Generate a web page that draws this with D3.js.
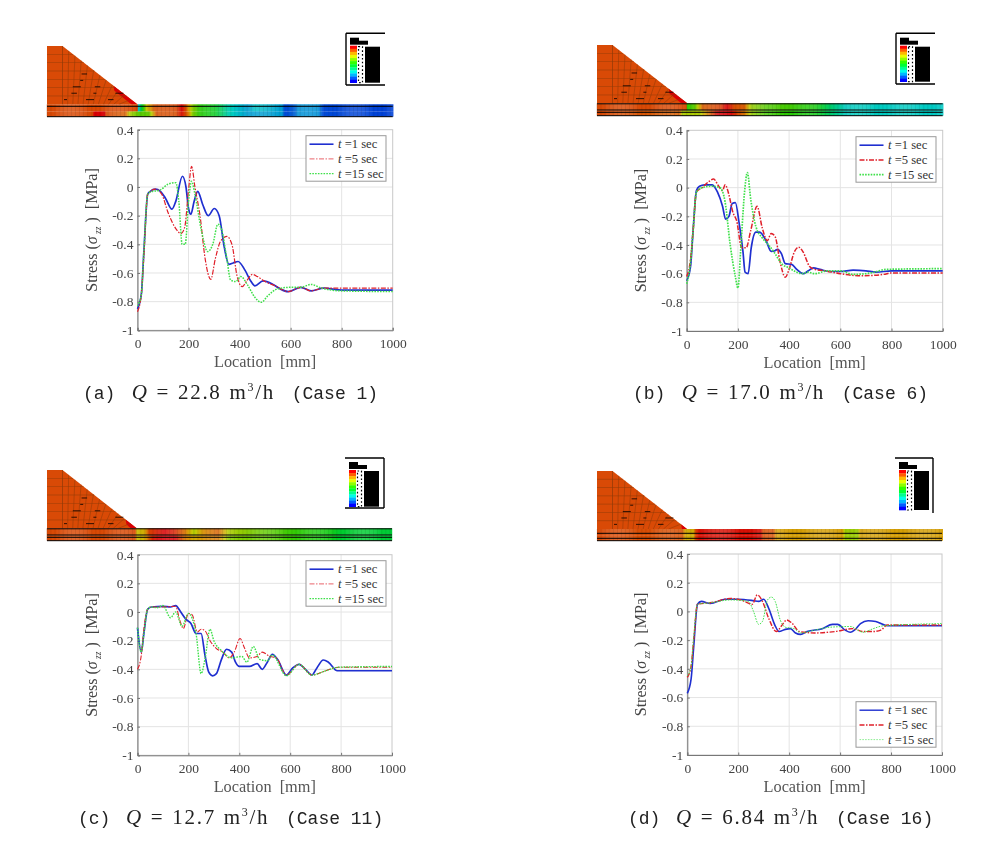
<!DOCTYPE html>
<html><head><meta charset="utf-8">
<script src="https://cdn.jsdelivr.net/npm/d3@7/dist/d3.min.js"></script>
<style>html,body{margin:0;background:#fff}svg{display:block;filter:blur(.5px)}</style></head>
<body><svg id="c" width="1004" height="845"></svg>
<script>
// ---- data: [location mm, stress MPa]
const case1T1=[[0,-.85],[15,-.75],[25,-.45],[40,-.05],[50,-.03],[70,-.015],[90,-.03],[110,-.08],[135,-.155],[150,-.1],[176,.075],[190,0],[200,-.15],[209,-.19],[222,-.1],[236,-.03],[255,-.12],[277,-.2],[301,-.15],[320,-.2],[340,-.42],[358,-.54],[375,-.53],[394,-.52],[421,-.58],[445,-.66],[460,-.69],[492,-.655],[531,-.68],[558,-.71],[590,-.73],[640,-.7],[680,-.725],[730,-.705],[800,-.72],[1000,-.72]];
const case1T5=[[0,-.87],[15,-.75],[25,-.48],[40,-.05],[70,-.015],[95,-.05],[120,-.18],[150,-.29],[170,-.325],[185,-.28],[200,-.02],[212,.145],[225,0],[245,-.2],[265,-.5],[287,-.645],[305,-.5],[325,-.38],[350,-.345],[370,-.4],[390,-.62],[410,-.695],[430,-.65],[450,-.61],[470,-.625],[500,-.66],[540,-.69],[590,-.73],[640,-.7],[680,-.725],[730,-.705],[800,-.705],[1000,-.705]];
const case1T15=[[0,-.83],[15,-.75],[25,-.45],[40,-.05],[50,-.035],[90,-.02],[120,.02],[150,.03],[162,-.1],[175,-.4],[187,-.4],[200,-.1],[212,.04],[225,-.05],[250,-.3],[275,-.45],[295,-.4],[315,-.26],[330,-.3],[350,-.5],[365,-.65],[385,-.66],[405,-.625],[430,-.68],[460,-.77],[485,-.805],[510,-.76],[550,-.71],[600,-.7],[640,-.7],[680,-.68],[720,-.705],[800,-.725],[1000,-.73]];
const case6T1=[[0,-.65],[15,-.55],[25,-.3],[38,-.02],[50,.01],[70,.02],[100,.02],[120,-.03],[140,-.13],[152,-.22],[165,-.2],[178,-.11],[190,-.105],[205,-.25],[220,-.45],[228,-.59],[240,-.6],[252,-.42],[270,-.31],[285,-.31],[310,-.37],[330,-.445],[345,-.44],[355,-.43],[370,-.46],[385,-.53],[410,-.535],[430,-.57],[455,-.6],[475,-.58],[495,-.56],[520,-.57],[560,-.585],[600,-.585],[650,-.575],[700,-.58],[740,-.59],[800,-.58],[1000,-.58]];
const case6T5=[[0,-.62],[15,-.5],[25,-.3],[38,-.03],[60,0],[85,.04],[105,.06],[125,.01],[140,-.02],[150,.02],[165,-.05],[180,-.17],[195,-.23],[215,-.42],[232,-.42],[250,-.3],[275,-.13],[295,-.28],[315,-.37],[330,-.32],[345,-.34],[365,-.52],[385,-.625],[400,-.57],[420,-.45],[437,-.415],[455,-.45],[480,-.55],[500,-.57],[540,-.58],[600,-.6],[680,-.615],[770,-.605],[800,-.595],[1000,-.595]];
const case6T15=[[0,-.67],[15,-.52],[25,-.3],[38,-.03],[60,0],[100,.01],[130,0],[150,-.1],[170,-.4],[190,-.62],[200,-.7],[212,-.4],[225,-.05],[237,.105],[250,-.08],[270,-.27],[295,-.35],[320,-.4],[345,-.46],[370,-.53],[400,-.56],[430,-.59],[450,-.6],[475,-.59],[500,-.6],[550,-.58],[600,-.58],[650,-.605],[720,-.595],[780,-.57],[1000,-.565]];
const case11T1=[[0,-.11],[15,-.28],[25,-.15],[40,.02],[55,.035],[100,.04],[130,.035],[150,.045],[170,0],[190,-.05],[210,-.08],[230,-.15],[250,-.15],[265,-.3],[280,-.42],[295,-.445],[310,-.43],[330,-.33],[350,-.26],[370,-.28],[385,-.35],[400,-.38],[440,-.38],[470,-.36],[490,-.4],[510,-.35],[530,-.295],[550,-.33],[585,-.44],[610,-.39],[635,-.365],[660,-.4],[685,-.44],[705,-.39],[730,-.335],[750,-.35],[785,-.41],[1000,-.41]];
const case11T5=[[0,-.4],[15,-.3],[25,-.12],[40,.02],[55,.035],[100,.035],[150,.04],[165,-.05],[180,-.115],[200,-.01],[215,-.02],[235,-.14],[250,-.12],[265,-.13],[285,-.2],[310,-.255],[335,-.28],[360,-.32],[380,-.28],[403,-.185],[420,-.25],[440,-.32],[470,-.31],[490,-.28],[520,-.31],[545,-.32],[585,-.44],[635,-.365],[685,-.44],[740,-.41],[790,-.385],[1000,-.385]];
const case11T15=[[0,-.11],[15,-.28],[25,-.15],[40,.02],[55,.035],[75,.03],[100,.045],[130,-.04],[150,0],[175,-.1],[200,-.01],[230,-.15],[250,-.43],[265,-.33],[285,-.12],[300,-.2],[330,-.27],[370,-.32],[410,-.31],[430,-.35],[455,-.24],[480,-.33],[510,-.34],[530,-.3],[585,-.445],[635,-.365],[685,-.44],[740,-.41],[790,-.385],[1000,-.38]];
const case16T1=[[0,-.57],[15,-.47],[25,-.25],[40,.05],[55,.07],[90,.055],[150,.085],[200,.085],[260,.075],[280,.07],[300,.085],[320,.02],[345,-.1],[360,-.14],[385,-.125],[405,-.12],[425,-.15],[445,-.16],[470,-.14],[530,-.12],[570,-.09],[590,-.09],[620,-.13],[640,-.145],[660,-.125],[680,-.085],[710,-.065],[740,-.07],[785,-.1],[1000,-.1]];
const case16T5=[[0,-.46],[15,-.38],[25,-.2],[40,.05],[90,.06],[170,.09],[210,.08],[255,.05],[275,.115],[295,.07],[320,-.05],[350,-.14],[370,-.1],[390,-.06],[410,-.08],[440,-.14],[500,-.15],[580,-.14],[650,-.12],[690,-.14],[730,-.14],[760,-.13],[785,-.095],[1000,-.095]];
const case16T15=[[0,-.45],[15,-.38],[25,-.18],[40,.05],[90,.06],[170,.08],[240,.07],[260,0],[280,-.09],[295,-.07],[315,.08],[330,.1],[345,.07],[365,-.06],[385,-.11],[420,-.12],[445,-.15],[500,-.13],[560,-.11],[640,-.105],[690,-.145],[730,-.12],[770,-.1],[1000,-.085]];

const xTicks=[0,200,400,600,800,1000];
const yTicks=[.4,.2,0,-.2,-.4,-.6,-.8,-1];
const seriesNames=["1","5","15"];

// contour levels (0 = blue, 1 = red) along the foundation strip: [location mm, level]
const contour1Top=[[-352,.91],[0,.91],[1,.2],[17,.45],[37,.75],[69,.9],[154,.91],[174,1],[193,.88],[213,.68],[245,.55],[285,.5],[304,.48],[355,.3],[433,.2],[461,.26],[565,.2],[578,.09],[617,.12],[630,.18],[708,.18],[727,.09],[1000,.08]];
const contour1Bot=[[-352,.91],[-175,.91],[-170,1],[-128,1],[-122,.91],[-45,.88],[-30,.7],[10,.6],[45,.62],[60,.75],[75,.9],[150,.9],[175,.98],[200,.85],[215,.66],[245,.55],[285,.5],[304,.48],[355,.3],[433,.2],[461,.2],[565,.2],[578,.09],[617,.12],[630,.18],[708,.18],[727,.09],[1000,.08]];
const contour6Top=[[-352,.91],[-2,.91],[0,.55],[30,.62],[60,.88],[130,.92],[155,1],[185,.9],[225,.88],[250,.68],[310,.6],[400,.58],[500,.52],[560,.38],[620,.28],[1000,.27]];
const contour6Bot=[[-352,.91],[-30,.88],[-20,.7],[50,.7],[90,.88],[120,1],[170,1],[200,.9],[225,.85],[250,.68],[310,.58],[400,.55],[500,.5],[560,.38],[620,.28],[1000,.27]];
const contour11Top=[[-352,.91],[-5,.91],[0,.75],[30,.78],[50,.92],[110,1],[150,.95],[190,.85],[225,.7],[260,.82],[320,.88],[360,.7],[500,.62],[620,.56],[760,.5],[800,.45],[1000,.44]];
const contour11Bot=[[-352,.91],[-5,.91],[0,.75],[30,.78],[60,.95],[90,1],[150,1],[190,.85],[225,.78],[260,.82],[320,.85],[360,.66],[500,.62],[620,.56],[760,.5],[800,.45],[1000,.44]];
const contour16Top=[[-352,.91],[-20,.9],[-5,.78],[25,.78],[35,.93],[50,.98],[290,.98],[300,.9],[340,.9],[350,.8],[610,.8],[620,.68],[670,.68],[680,.8],[1000,.8]];
const contour16Bot=contour16Top;
const barLevels=[1,.91,.82,.73,.64,.55,.45,.36,.27,.18,.09,0];

const panels=[
 {id:"a",Q:"22.8",cs:"1",s:[case1T1,case1T5,case1T15],ct:contour1Top,cb:contour1Bot,
  px:[137.5,392.7],py:[129.7,330.3],mesh:{l:47,top:46,st:104.3,bot:116.7,toe:137.3,lines:[106.3,116.7]},
  bar:{fx:[346,385],fy:[33.3,85],open:"right",x:350,y:[45.7,82.7]},
  leg:{x:306,y:135.7},cap:{y:393,a:83,q:131.7,c:291.7},lw:[1.7,1.2,1.5],ll:[1.6,.7,1.1]},
 {id:"b",Q:"17.0",cs:"6",s:[case6T1,case6T5,case6T15],ct:contour6Top,cb:contour6Bot,
  px:[686.7,942.7],py:[130.3,331],mesh:{l:597,top:45,st:103.3,bot:115.7,toe:687.3,lines:[103.8,110,112.3,115.7]},
  bar:{fx:[896,935],fy:[33.3,84],open:"right",x:900,y:[45.7,81.7]},
  leg:{x:856,y:136.7},cap:{y:393,a:633,q:681.7,c:841.7},lw:[1.7,1.5,1.7],ll:[1.6,1.5,1.6]},
 {id:"c",Q:"12.7",cs:"11",s:[case11T1,case11T5,case11T15],ct:contour11Top,cb:contour11Bot,
  px:[137.5,392],py:[554.7,755.3],mesh:{l:47,top:470,st:528.3,bot:540.7,toe:136.7,lines:[528.8,535,537.3,540.7]},
  bar:{fx:[345,384],fy:[458,508],open:"left",x:349,y:[470,506.7]},
  leg:{x:306,y:560.7},cap:{y:818,a:78,q:126,c:286},lw:[1.7,1.1,1.4],ll:[1.6,.7,1.1]},
 {id:"d",Q:"6.84",cs:"16",s:[case16T1,case16T5,case16T15],ct:contour16Top,cb:contour16Bot,
  px:[687.3,942],py:[554,755],mesh:{l:597,top:471,st:529,bot:540.7,toe:687,lines:[533.3,538.3,540.7]},
  bar:{fx:[895,933],fy:[458,513],open:"leftbottom",x:899,y:[470,510]},
  leg:{x:856,y:701.7},cap:{y:818,a:628,q:676,c:836},lw:[1.6,1.4,1],ll:[1.4,1.5,.6]}
];

const serif="'Liberation Serif',serif", mono="'Liberation Mono',monospace";
const colors=["#1f2fd0","#e0202a","#3fe04a"], dashes=[null,"5 1.5 1.5 1.5","1.6 1.2"];
const ramp=[[0,0,255],[0,93,255],[0,185,255],[0,255,232],[0,255,139],[0,255,46],[46,255,0],[139,255,0],[232,255,0],[255,185,0],[255,93,0],[255,0,0]];
const rampScale=d3.scaleLinear().domain(d3.range(12).map(i=>i/11)).range(ramp.map(c=>`rgb(${c})`));
const shade=l=>{const c=d3.rgb(rampScale(Math.max(0,Math.min(1,l))));return d3.rgb(c.r*.85,c.g*.8,c.b*.82+6).formatHex();};
const svg=d3.select("#c");

panels.forEach(p=>{
 const g=svg.append("g");
 const x=d3.scaleLinear().domain([0,1000]).range(p.px);
 const y=d3.scaleLinear().domain([-1,.4]).range([p.py[1],p.py[0]]);
 // mesh
 const m=p.mesh, mmx=d3.scaleLinear().domain([0,1000]).range([m.toe,p.px[1]]);
 const L=mmx.invert(m.l), crest=mmx.invert(m.l+15.5);
 const mmy=d3.scaleLinear().domain([0,m.st-m.top]).range([m.st,m.top]);
 const H=m.st-m.top;
 const mesh=g.append("g");
 mesh.append("path").attr("fill",shade(.91))
  .attr("d",d3.line()([[mmx(L),mmy(H)],[mmx(crest),mmy(H)],[mmx(0),mmy(0)],[mmx(L),mmy(0)]]));
 // red toe patch along the slope
 const slope=t=>[mmx(crest+(0-crest)*t),mmy(H*(1-t))];
 const redFrom={a:.68,b:.75,c:.85,d:.92}[p.id];
 const a0=slope(redFrom),a1=slope(1);
 mesh.append("path").attr("fill",shade(1)).attr("d",d3.line()([a0,a1,[a1[0]-6,a1[1]],[a0[0]+1,a0[1]+5]]));
 // element lines of the embankment
 d3.range(1,12).forEach(i=>{
  const t=i/12,[sx,sy]=slope(t);
  mesh.append("line").attr("x1",sx).attr("y1",sy).attr("x2",m.l+16+(sx-m.l-16)*.82).attr("y2",m.st)
   .attr("stroke","#8e3a08").attr("stroke-width",.6).attr("opacity",.85);
 });
 d3.range(1,7).forEach(j=>{
  const v=j/7, yy=m.st-H*v, xe=m.toe+(m.l+15.5-m.toe)*v;
  mesh.append("line").attr("x1",m.l).attr("x2",xe).attr("y1",yy).attr("y2",yy)
   .attr("stroke","#8e3a08").attr("stroke-width",.6).attr("opacity",.85);
 });
 mesh.append("line").attr("x1",m.l+15.5).attr("x2",m.l+15.5).attr("y1",m.top).attr("y2",m.st).attr("stroke","#8e3a08").attr("stroke-width",.7);
 d3.range(0,16).forEach(i=>{
  const j=i%5, yy=m.st-H*(.08+.11*j), xx=m.l+17+i*4.4+(j%2)*3;
  if(xx+6<m.toe-(m.st-yy)*1.32)
   mesh.append("line").attr("x1",xx).attr("x2",xx+3+(i%3)*2.5).attr("y1",yy).attr("y2",yy).attr("stroke","#1a0800").attr("stroke-width",.9);
 });
 // contour strip
 const lev=a=>d3.scaleLinear().domain(a.map(d=>d[0])).range(a.map(d=>d[1]));
 const lt=lev(p.ct),lb=lev(p.cb), mid=(m.st+m.bot)/2+1;
 d3.range(Math.floor(L),1000,4).forEach(loc=>{
  const xa=mmx(loc),w=mmx(loc+4)-xa+.2;
  mesh.append("rect").attr("x",xa).attr("y",m.st).attr("width",w).attr("height",mid-m.st).attr("fill",shade(lt(loc+2)));
  mesh.append("rect").attr("x",xa).attr("y",mid).attr("width",w).attr("height",m.bot-mid).attr("fill",shade(lb(loc+2)));
 });
 d3.range(Math.floor(L),1000,16).forEach(loc=>{
  mesh.append("line").attr("x1",mmx(loc)).attr("x2",mmx(loc)).attr("y1",m.st).attr("y2",m.bot).attr("stroke","#000").attr("stroke-width",.5).attr("opacity",.16);
 });
 m.lines.forEach(yy=>mesh.append("line").attr("x1",m.l).attr("x2",p.px[1]).attr("y1",yy).attr("y2",yy).attr("stroke","#000").attr("stroke-width",1));
 // colour bar
 const b=p.bar, bs=d3.scaleBand().domain(barLevels).range(b.y);
 const bg=g.append("g");
 barLevels.forEach(l=>bg.append("rect").attr("x",b.x).attr("width",7).attr("y",bs(l)).attr("height",bs.bandwidth()+.3).attr("fill",rampScale(l)));
 const ln=(a,c,d,e)=>bg.append("line").attr("x1",a).attr("y1",c).attr("x2",d).attr("y2",e).attr("stroke","#000").attr("stroke-width",1.4);
 ln(b.fx[0],b.fy[0],b.fx[1],b.fy[0]);
 if(p.bar.open!=="leftbottom") ln(b.fx[0],b.fy[1],b.fx[1],b.fy[1]);
 if(p.bar.open==="right") ln(b.fx[0],b.fy[0],b.fx[0],b.fy[1]); else ln(b.fx[1],b.fy[0],b.fx[1],b.fy[1]);
 bg.append("rect").attr("x",b.x).attr("y",b.y[0]-8).attr("width",9).attr("height",7).attr("fill","#000");
 bg.append("rect").attr("x",b.x+9).attr("y",b.y[0]-5).attr("width",9).attr("height",4).attr("fill","#000");
 bg.append("rect").attr("x",b.x+15).attr("y",b.y[0]+1).attr("width",15).attr("height",b.y[1]-b.y[0]-1).attr("fill","#000");
 bg.append("rect").attr("x",b.x+8.5).attr("y",b.y[0]+1).attr("width",4).attr("height",b.y[1]-b.y[0]-1).attr("fill","none").attr("stroke","#000").attr("stroke-width",1.2).attr("stroke-dasharray","1.6 2.2");
 // grid
 const gg=g.append("g");
 xTicks.slice(1,-1).forEach(t=>gg.append("line").attr("x1",x(t)).attr("x2",x(t)).attr("y1",p.py[0]).attr("y2",p.py[1]).attr("stroke","#e4e4e4"));
 yTicks.slice(1,-1).forEach(t=>gg.append("line").attr("x1",p.px[0]).attr("x2",p.px[1]).attr("y1",y(t)).attr("y2",y(t)).attr("stroke","#e4e4e4"));
 gg.append("rect").attr("x",p.px[0]).attr("y",p.py[0]).attr("width",p.px[1]-p.px[0]).attr("height",p.py[1]-p.py[0]).attr("fill","none").attr("stroke","#c8c8c8");
 // axes
 const ax=g.append("g").attr("transform",`translate(0,${p.py[1]})`).call(d3.axisBottom(x).tickValues(xTicks).tickSize(-2.5).tickPadding(8).tickFormat(d3.format("d")));
 const ay=g.append("g").attr("transform",`translate(${p.px[0]},0)`).call(d3.axisLeft(y).tickValues(yTicks).tickSize(-2.5).tickPadding(4).tickFormat(d=>String(d)));
 [ax,ay].forEach(a=>{a.selectAll("path").attr("stroke","#777").attr("stroke-width",1);a.selectAll("line").attr("stroke","#777");
  a.selectAll("text").attr("font-family",serif).attr("font-size",13.5).attr("fill","#444");});
 // series: blue first, the later times over it
 const line=d3.line().x(d=>x(d[0])).y(d=>y(d[1])).curve(d3.curveMonotoneX);
 [0,1,2].forEach(i=>g.append("path").datum(p.s[i]).attr("d",line).attr("fill","none").attr("stroke",colors[i])
   .attr("stroke-width",p.lw[i]).attr("stroke-dasharray",dashes[i]));
 // axis labels
 g.append("text").attr("x",(p.px[0]+p.px[1])/2).attr("y",p.py[1]+37).attr("text-anchor","middle").attr("font-family",serif).attr("font-size",16.3).attr("fill","#555").attr("xml:space","preserve").text("Location  [mm]");
 const yl=g.append("text").attr("transform",`translate(${p.px[0]-41},${(p.py[0]+p.py[1])/2}) rotate(-90)`).attr("text-anchor","middle").attr("font-family",serif).attr("font-size",16).attr("fill","#444").attr("xml:space","preserve");
 yl.append("tspan").text("Stress (");
 yl.append("tspan").attr("font-style","italic").text("σ");
 yl.append("tspan").attr("font-style","italic").attr("font-size",9.5).attr("dy",4).text(" zz");
 yl.append("tspan").attr("dy",-4).text(" )  [MPa]");
 // legend
 const lg=g.append("g").attr("transform",`translate(${p.leg.x},${p.leg.y})`);
 lg.append("rect").attr("width",80).attr("height",45.5).attr("fill","#fff").attr("stroke","#999").attr("stroke-width",1);
 seriesNames.forEach((n,i)=>{
  const ly=8.5+14.7*i;
  lg.append("line").attr("x1",3.5).attr("x2",27.5).attr("y1",ly).attr("y2",ly).attr("stroke",colors[i]).attr("stroke-width",p.ll[i]).attr("stroke-dasharray",dashes[i]);
  const t=lg.append("text").attr("x",32).attr("y",ly+4).attr("font-family",serif).attr("font-size",12.6).attr("fill","#333");
  t.append("tspan").attr("font-style","italic").text("t");
  t.append("tspan").text(` =${n} sec`);
 });
 // caption
 const cp=g.append("g").attr("fill","#222");
 cp.append("text").attr("x",p.cap.a).attr("y",p.cap.y+6).attr("font-family",mono).attr("font-size",18).text(`(${p.id})`);
 const q=cp.append("text").attr("x",p.cap.q).attr("y",p.cap.y+6).attr("font-family",serif).attr("font-size",21).attr("letter-spacing",1.7).attr("word-spacing",1);
 q.append("tspan").attr("font-style","italic").text("Q");
 q.append("tspan").text(` = ${p.Q} m`);
 q.append("tspan").attr("font-size",12).attr("dy",-8).text("3");
 q.append("tspan").attr("dy",8).text("/h");
 cp.append("text").attr("x",p.cap.c).attr("y",p.cap.y+6).attr("font-family",mono).attr("font-size",18).attr("xml:space","preserve").text(`(Case ${p.cs})`);
});
</script></body></html>
